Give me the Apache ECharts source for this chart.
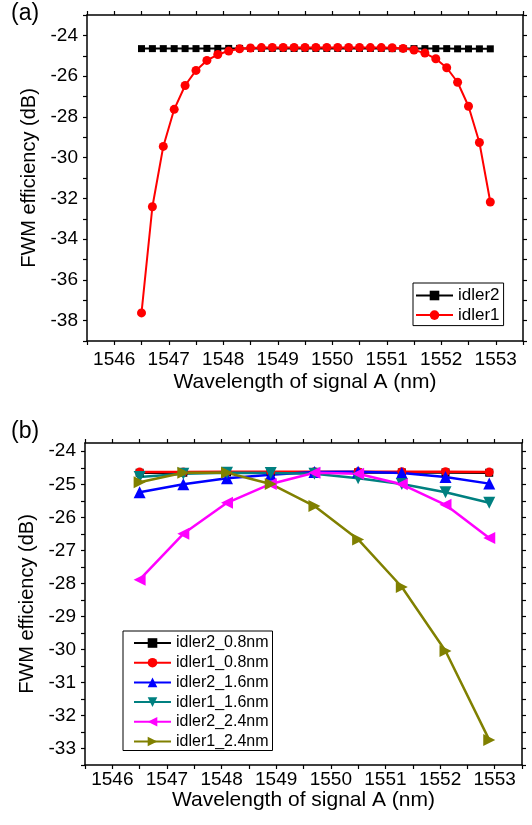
<!DOCTYPE html>
<html>
<head>
    <meta charset="utf-8">
    <title>FWM efficiency</title>
</head>
<body style="margin: 0">
    <div id="container" style="width: 532px; height: 825px"></div>
    <script src="https://cdn.jsdelivr.net/npm/echarts@6.0.0/dist/echarts.min.js"></script>
    <script>
        // (a) data: 0.2 nm steps
        var wlA = [1546.5, 1546.7, 1546.9, 1547.1, 1547.3, 1547.5, 1547.7, 1547.9, 1548.1, 1548.3, 1548.5,
                   1548.7, 1548.9, 1549.1, 1549.3, 1549.5, 1549.7, 1549.9, 1550.1, 1550.3, 1550.5, 1550.7,
                   1550.9, 1551.1, 1551.3, 1551.5, 1551.7, 1551.9, 1552.1, 1552.3, 1552.5, 1552.7, 1552.9];
        var idler2A = [-24.65, -24.65, -24.65, -24.65, -24.65, -24.65, -24.64, -24.64, -24.64, -24.64, -24.64,
                       -24.64, -24.64, -24.64, -24.64, -24.64, -24.64, -24.64, -24.64, -24.64, -24.64, -24.64,
                       -24.64, -24.65, -24.65, -24.65, -24.65, -24.65, -24.65, -24.66, -24.66, -24.66, -24.66];
        var idler1A = [-37.62, -32.41, -29.45, -27.63, -26.46, -25.72, -25.23, -24.94, -24.77, -24.66, -24.62,
                       -24.6, -24.59, -24.59, -24.59, -24.59, -24.59, -24.59, -24.59, -24.59, -24.59, -24.6,
                       -24.6, -24.61, -24.64, -24.72, -24.87, -25.15, -25.59, -26.3, -27.48, -29.26, -32.18];

        // (b) data: 0.8 nm steps
        var wlB = [1546.5, 1547.3, 1548.1, 1548.9, 1549.7, 1550.5, 1551.3, 1552.1, 1552.9];
        var idler2_08 = [-24.65, -24.65, -24.64, -24.64, -24.64, -24.64, -24.64, -24.64, -24.65];
        var idler1_08 = [-24.63, -24.63, -24.62, -24.62, -24.62, -24.62, -24.62, -24.62, -24.63];
        var idler2_16 = [-25.24, -25.0, -24.82, -24.71, -24.63, -24.62, -24.66, -24.78, -24.98];
        var idler1_16 = [-24.78, -24.68, -24.65, -24.66, -24.68, -24.82, -24.99, -25.24, -25.56];
        var idler2_24 = [-27.89, -26.5, -25.56, -24.99, -24.65, -24.68, -25.0, -25.62, -26.63];
        var idler1_24 = [-24.94, -24.65, -24.65, -24.99, -25.66, -26.67, -28.11, -30.05, -32.74];

        // tick labels / tick marks
        var xLabels = [1546, 1547, 1548, 1549, 1550, 1551, 1552, 1553];
        var xTicks = [1545.5, 1546, 1546.5, 1547, 1547.5, 1548, 1548.5, 1549, 1549.5, 1550, 1550.5,
                      1551, 1551.5, 1552, 1552.5, 1553, 1553.5];
        var yLabelsA = [-38, -36, -34, -32, -30, -28, -26, -24];
        var yTicksA = [-39, -38, -37, -36, -35, -34, -33, -32, -31, -30, -29, -28, -27, -26, -25, -24, -23];
        var yLabelsB = [-33, -32, -31, -30, -29, -28, -27, -26, -25, -24];
        var yTicksB = [-33.5, -33, -32.5, -32, -31.5, -31, -30.5, -30, -29.5, -29, -28.5, -28, -27.5,
                       -27, -26.5, -26, -25.5, -25, -24.5, -24];

        var FONT = 'Liberation Sans';

        function zip(xs, ys) {
            return xs.map(function (x, i) { return [x, ys[i]]; });
        }

        var axLine = { onZero: false, lineStyle: { color: '#000', width: 1.5 } };

        function xAx(grid, pos, showLabel, margin, nameGap) {
            return {
                gridIndex: grid, type: 'value', position: pos,
                min: 1545.5, max: 1553.5,
                axisLine: axLine,
                axisTick: { show: true, length: 4, customValues: xTicks, lineStyle: { color: '#000', width: 1.2 } },
                axisLabel: {
                    show: showLabel, customValues: xLabels, fontSize: 19, color: '#000', fontFamily: FONT, margin: margin,
                    formatter: function (v) { return String(v); }
                },
                splitLine: { show: false },
                name: showLabel ? 'Wavelength of signal A (nm)' : '',
                nameLocation: 'middle', nameGap: nameGap,
                nameTextStyle: { fontSize: 21, color: '#000', fontFamily: FONT }
            };
        }

        function yAx(grid, pos, showLabel, min, max, labels, ticks) {
            return {
                gridIndex: grid, type: 'value', position: pos,
                min: min, max: max,
                axisLine: axLine,
                axisTick: { show: true, length: 4, customValues: ticks, lineStyle: { color: '#000', width: 1.2 } },
                axisLabel: { show: showLabel, customValues: labels, fontSize: 19, color: '#000', fontFamily: FONT, margin: 9 },
                splitLine: { show: false },
                name: showLabel ? 'FWM efficiency (dB)' : '',
                nameLocation: 'middle', nameGap: 44, nameRotate: 90,
                nameTextStyle: { fontSize: 20, color: '#000', fontFamily: FONT }
            };
        }

        function line(name, xi, yi, xs, ys, color, symbol, size, rot, width) {
            return {
                name: name, type: 'line', xAxisIndex: xi, yAxisIndex: yi,
                data: zip(xs, ys),
                symbol: symbol, symbolSize: size, symbolRotate: rot,
                lineStyle: { color: color, width: width },
                itemStyle: { color: color },
                emphasis: { disabled: true }
            };
        }

        var myChart = echarts.init(document.getElementById('container'), null, { renderer: 'canvas' });

        var option = {
            animation: false,
            backgroundColor: '#fff',
            textStyle: { fontFamily: FONT },
            title: [
                { text: '(a)', left: 11, top: 2, padding: 0, textStyle: { fontSize: 23, fontWeight: 'normal', color: '#000', fontFamily: FONT } },
                { text: '(b)', left: 11, top: 420, padding: 0, textStyle: { fontSize: 23, fontWeight: 'normal', color: '#000', fontFamily: FONT } }
            ],
            grid: [
                { left: 87, top: 15, width: 436, height: 326 },
                { left: 85, top: 443, width: 437, height: 322 }
            ],
            xAxis: [
                xAx(0, 'bottom', true, 9, 31),
                xAx(0, 'top', false, 9, 0),
                xAx(1, 'bottom', true, 5, 25),
                xAx(1, 'top', false, 5, 0)
            ],
            yAxis: [
                yAx(0, 'left', true, -39, -23, yLabelsA, yTicksA),
                yAx(0, 'right', false, -39, -23, yLabelsA, yTicksA),
                yAx(1, 'left', true, -33.5, -23.75, yLabelsB, yTicksB),
                yAx(1, 'right', false, -33.5, -23.75, yLabelsB, yTicksB)
            ],
            legend: [
                {
                    data: ['idler2', 'idler1'], orient: 'vertical',
                    left: 413, top: 283, itemWidth: 37, itemHeight: 12, itemGap: 2.6,
                    padding: [4, 4, 2, 2], borderColor: '#000', borderWidth: 1,
                    textStyle: { fontSize: 17, lineHeight: 16, color: '#000', fontFamily: FONT }
                },
                {
                    data: ['idler2_0.8nm', 'idler1_0.8nm', 'idler2_1.6nm', 'idler1_1.6nm', 'idler2_2.4nm', 'idler1_2.4nm'],
                    orient: 'vertical',
                    left: 123, top: 631, itemWidth: 37, itemHeight: 12, itemGap: 3.7,
                    padding: [4, 4, 1, 10], borderColor: '#000', borderWidth: 1,
                    textStyle: { fontSize: 16, lineHeight: 16, color: '#000', fontFamily: FONT }
                }
            ],
            series: [
                line('idler2', 0, 0, wlA, idler2A, '#000000', 'rect', 7, 0, 2),
                line('idler1', 0, 0, wlA, idler1A, '#ff0000', 'circle', 9, 0, 2),
                line('idler2_0.8nm', 2, 2, wlB, idler2_08, '#000000', 'rect', 8, 0, 2.5),
                line('idler1_0.8nm', 2, 2, wlB, idler1_08, '#ff0000', 'circle', 9, 0, 2.5),
                line('idler2_1.6nm', 2, 2, wlB, idler2_16, '#0000ff', 'triangle', 12, 0, 2.5),
                line('idler1_1.6nm', 2, 2, wlB, idler1_16, '#008080', 'triangle', 12, 180, 2.5),
                line('idler2_2.4nm', 2, 2, wlB, idler2_24, '#ff00ff', 'triangle', 12, 90, 2.5),
                line('idler1_2.4nm', 2, 2, wlB, idler1_24, '#808000', 'triangle', 12, -90, 2.5)
            ]
        };

        myChart.setOption(option);
        window.addEventListener('resize', myChart.resize);
    </script>
</body>
</html>
